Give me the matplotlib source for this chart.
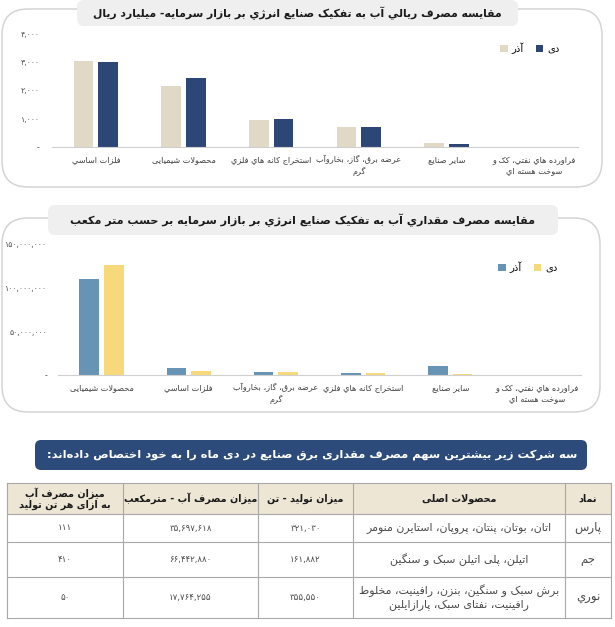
import re

import matplotlib
matplotlib.use("Agg")
import matplotlib.pyplot as plt
from matplotlib.patches import FancyBboxPatch
from matplotlib.ticker import FuncFormatter

plt.rcParams['font.family'] = ['DejaVu Sans']

# ---- data ----
cats_rial = ['فلزات اساسي', 'محصولات شیمیایی', 'استخراج کانه هاي فلزي',
             'عرضه برق، گاز، بخاروآب\nگرم', 'سایر صنایع',
             'فراورده هاي نفتي، کک و\nسوخت هسته اي']
rial_azar = [3010, 2150, 930, 715, 135, 0]
rial_dey = [3000, 2425, 975, 715, 90, 0]

cats_vol = ['محصولات شیمیایی', 'فلزات اساسي', 'عرضه برق، گاز، بخاروآب\nگرم',
            'استخراج کانه هاي فلزي', 'سایر صنایع',
            'فراورده هاي نفتي، کک و\nسوخت هسته اي']
vol_azar = [109800000, 7600000, 3800000, 1900000, 9900000, 0]
vol_dey = [125500000, 5000000, 3800000, 2300000, 1100000, 0]

title_rial = 'مقایسه مصرف ریالي آب به تفکیک صنایع انرژي بر بازار سرمایه- میلیارد ریال'
title_vol = 'مقایسه مصرف مقداري آب به تفکیک صنایع انرژي بر بازار سرمایه بر حسب متر مکعب'
title_table = 'سه شرکت زیر بیشترین سهم مصرف مقداری برق صنایع در دی ماه را به خود اختصاص داده\u200cاند:'

table_head = ['نماد', 'محصولات اصلی', 'میزان تولید - تن', 'میزان مصرف آب - مترمکعب',
              'میزان مصرف آب\nبه ازای هر تن تولید']
symbols = ['پارس', 'جم', 'نوري']
products = ['اتان، بوتان، پنتان، پروپان، استایرن منومر',
            'اتیلن، پلی اتیلن سبک و سنگین',
            'برش سبک و سنگین، بنزن، رافینیت، مخلوط\nرافینیت، نفتای سبک، پارازایلین']
production = [321030, 161882, 355550]
water = [35697618, 66442880, 17764255]
per_ton = [111, 410, 50]

# ---- tiny arabic/persian shaper (no reshaper lib available) ----
FORMS = {'ء': (0xFE80, 1), 'آ': (0xFE81, 2), 'أ': (0xFE83, 2), 'ؤ': (0xFE85, 2),
         'إ': (0xFE87, 2), 'ئ': (0xFE89, 4), 'ا': (0xFE8D, 2), 'ب': (0xFE8F, 4),
         'ة': (0xFE93, 2), 'ت': (0xFE95, 4), 'ث': (0xFE99, 4), 'ج': (0xFE9D, 4),
         'ح': (0xFEA1, 4), 'خ': (0xFEA5, 4), 'د': (0xFEA9, 2), 'ذ': (0xFEAB, 2),
         'ر': (0xFEAD, 2), 'ز': (0xFEAF, 2), 'س': (0xFEB1, 4), 'ش': (0xFEB5, 4),
         'ص': (0xFEB9, 4), 'ض': (0xFEBD, 4), 'ط': (0xFEC1, 4), 'ظ': (0xFEC5, 4),
         'ع': (0xFEC9, 4), 'غ': (0xFECD, 4), 'ف': (0xFED1, 4), 'ق': (0xFED5, 4),
         'ك': (0xFED9, 4), 'ل': (0xFEDD, 4), 'م': (0xFEE1, 4), 'ن': (0xFEE5, 4),
         'ه': (0xFEE9, 4), 'و': (0xFEED, 2), 'ى': (0xFEEF, 2), 'ي': (0xFEF1, 4),
         'پ': (0xFB56, 4), 'چ': (0xFB7A, 4), 'ژ': (0xFB8A, 2), 'ک': (0xFB8E, 4),
         'گ': (0xFB92, 4), 'ی': (0xFBFC, 4)}
LAMALEF = {'ا': 0xFEFB, 'آ': 0xFEF5, 'أ': 0xFEF7, 'إ': 0xFEF9}
PD = str.maketrans('0123456789', '۰۱۲۳۴۵۶۷۸۹')


def shape(s):
    out = []
    i = 0
    n = len(s)
    while i < n:
        c = s[i]
        if c not in FORMS:
            out.append(c)
            i += 1
            continue
        prev = s[i - 1] if i > 0 else None
        jp = prev in FORMS and FORMS[prev][1] == 4
        if c == 'ل' and i + 1 < n and s[i + 1] in LAMALEF:
            out.append(chr(LAMALEF[s[i + 1]] + (1 if jp else 0)))
            i += 2
            continue
        base, nf = FORMS[c]
        nxt = s[i + 1] if i + 1 < n else None
        jn = nf == 4 and nxt in FORMS and FORMS[nxt][1] > 1
        if jp and jn:
            k = 3
        elif jp:
            k = 1
        elif jn:
            k = 2
        else:
            k = 0
        out.append(chr(base + k))
        i += 1
    return ''.join(out).replace('\u200c', '')


def fa(text):
    lines = []
    for line in text.split('\n'):
        runs = re.findall(r'[0-9۰-۹,.]+|[^0-9۰-۹,.]+', shape(line))
        vis = [r if re.match(r'[0-9۰-۹,.]', r) else r[::-1] for r in runs]
        lines.append(''.join(vis[::-1]))
    return '\n'.join(lines)


def num(v):
    return f'{int(v):,}'.translate(PD)


# ---- figure ----
W, H = 615, 627
fig = plt.figure(figsize=(W / 100, H / 100), dpi=100)
rend = fig.canvas.get_renderer()
bg = fig.add_axes([0, 0, 1, 1], zorder=0)
bg.set_xlim(0, W)
bg.set_ylim(H, 0)
bg.axis('off')


def fit(t, target):
    # shrink/grow a text so its drawn width matches the reference
    w = t.get_window_extent(rend).width
    t.set_fontsize(t.get_fontsize() * target / w)
    return t


def panel(x, y, w, h, tx, ty, tw, th, title, tgt):
    bg.add_patch(FancyBboxPatch((x, y), w, h, boxstyle='round,pad=0,rounding_size=26',
                                fc='white', ec='#d4d4d4', lw=1.1, zorder=1))
    bg.add_patch(FancyBboxPatch((tx, ty), tw, th, boxstyle='round,pad=0,rounding_size=7',
                                fc='#efefef', ec='none', zorder=2))
    t = bg.text(tx + tw / 2, ty + th / 2, fa(title), ha='center', va='center',
                fontsize=10, fontweight='bold', color='#1a1a1a', zorder=3)
    fit(t, tgt)


panel(2, 9, 600, 178, 77, 0, 441, 26, title_rial, 414)
panel(2, 218, 598, 194, 48, 205, 510, 30, title_vol, 468)


def bar_chart(rect, cats, azar, dey, c_azar, c_dey, ymax, step, ypad, leg_xy):
    ax = fig.add_axes(rect, zorder=5)
    ax.patch.set_alpha(0)
    x = list(range(len(cats)))
    b1 = ax.bar([i - 0.142 for i in x], azar, width=0.225, color=c_azar)
    b2 = ax.bar([i + 0.142 for i in x], dey, width=0.225, color=c_dey)
    ax.set_xlim(-0.5, len(cats) - 0.5)
    ax.set_ylim(0, ymax)
    ax.set_yticks(range(0, ymax + 1, step))
    ax.yaxis.set_major_formatter(FuncFormatter(lambda v, p: '-' if v == 0 else num(v)))
    ax.set_xticks(x)
    ax.set_xticklabels([fa(c) for c in cats], fontsize=5.9, color='#404040',
                       linespacing=1.25)
    ax.tick_params(axis='y', length=0, pad=ypad, labelsize=5.6, labelcolor='#505050')
    ax.tick_params(axis='x', length=0, pad=6)
    for s in ['top', 'right', 'left']:
        ax.spines[s].set_visible(False)
    ax.spines['bottom'].set_color('#d0d0d0')
    ax.legend([b1, b2], [fa('آذر'), fa('دی')], ncol=2, frameon=False, fontsize=7.2,
              handlelength=0.75, handleheight=0.75, handletextpad=0.4,
              columnspacing=1.2, loc='center',
              bbox_to_anchor=(leg_xy[0] / W, 1 - leg_xy[1] / H),
              bbox_transform=fig.transFigure)
    return ax


bar_chart([52 / W, 1 - 147 / H, 526 / W, 114 / H], cats_rial, rial_azar, rial_dey,
          '#e1d9c5', '#2c4676', 4000, 1000, 9, (530, 48))
bar_chart([58 / W, 1 - 375 / H, 523 / W, 131 / H], cats_vol, vol_azar, vol_dey,
          '#6794b5', '#f7d97b', 150000000, 50000000, 8, (528, 267))

# ---- table ----
bg.add_patch(FancyBboxPatch((35, 440), 552, 30, boxstyle='round,pad=0,rounding_size=6',
                            fc='#2c4a7a', ec='none', zorder=2))
t = bg.text(312, 455, fa(title_table), ha='center', va='center', fontsize=10,
            fontweight='bold', color='white', zorder=3)
fit(t, 530)

xs = [611, 565, 353, 258, 123, 7]  # right-to-left column edges
ys = [483, 514, 542, 577, 618]
bg.add_patch(plt.Rectangle((xs[-1], ys[0]), xs[0] - xs[-1], ys[1] - ys[0],
                           fc='#ede6d5', ec='none', zorder=1))
for yy in ys:
    bg.plot([xs[-1], xs[0]], [yy, yy], color='#a8a8a8', lw=0.8, zorder=2)
for xx in xs:
    bg.plot([xx, xx], [ys[0], ys[-1]], color='#a8a8a8', lw=0.8, zorder=2)

head_w = [None, 76, 84, 124, 86]
heads = []
for j, h in enumerate(table_head):
    t = bg.text((xs[j] + xs[j + 1]) / 2, (ys[0] + ys[1]) / 2, fa(h), ha='center',
                va='center', fontsize=8, fontweight='bold', color='#1a1a1a',
                linespacing=1.05, zorder=3)
    if head_w[j]:
        fit(t, head_w[j])
    heads.append(t)
hs = sum(t.get_fontsize() for t in heads[1:]) / 4
for t in heads:
    t.set_fontsize(hs)

for r in range(len(symbols)):
    cells = [symbols[r], products[r], num(production[r]), num(water[r]), num(per_ton[r])]
    cy = (ys[r + 1] + ys[r + 2]) / 2
    for j, c in enumerate(cells):
        fs = [8.5, 7.9, 6.2, 6.2, 6.2][j]
        bg.text((xs[j] + xs[j + 1]) / 2, cy, fa(c), ha='center', va='center',
                fontsize=fs, color='#4a4a4a', linespacing=1.3, zorder=3)

fig.savefig('out.png', dpi=100)
